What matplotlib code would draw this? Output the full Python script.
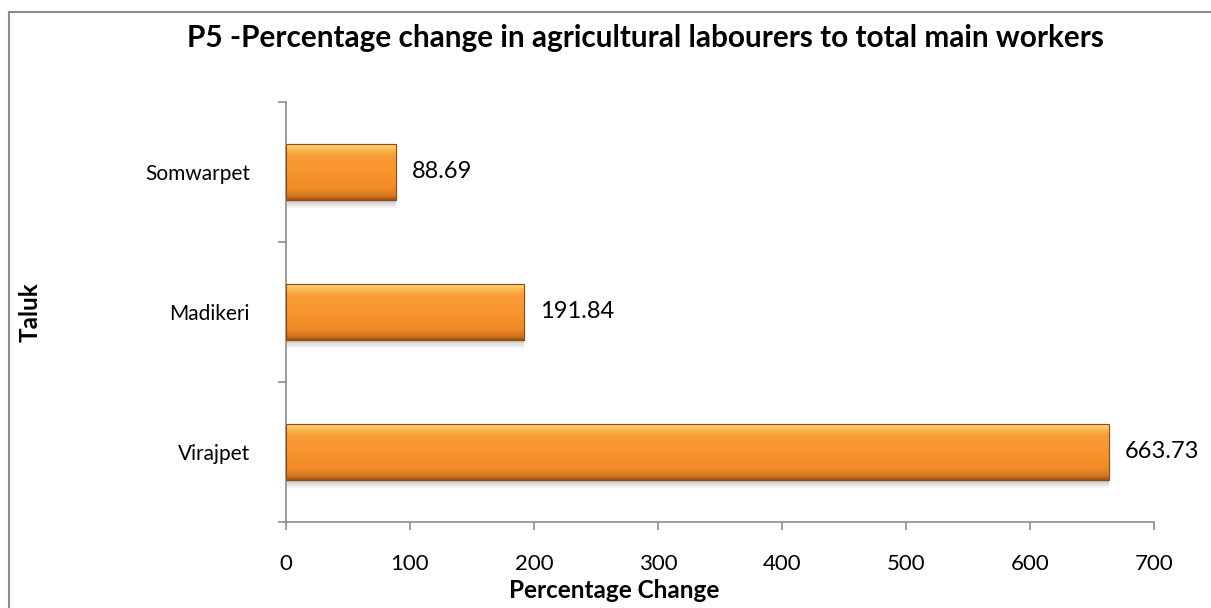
import numpy as np
import matplotlib.pyplot as plt
from matplotlib.colors import LinearSegmentedColormap
from matplotlib.lines import Line2D

taluks = ['Virajpet', 'Madikeri', 'Somwarpet']
pct_change = [663.73, 191.84, 88.69]
x_ticks = [0, 100, 200, 300, 400, 500, 600, 700]

plt.rcParams['font.family'] = ['Lato', 'DejaVu Sans']

fig = plt.figure(figsize=(12.11, 6.08), dpi=100)
ax = fig.add_axes([286 / 1211, 1 - 522 / 608, 868 / 1211, 420 / 608])

# outer chart frame (only left and top edges are visible in the picture)
fig.add_artist(Line2D([9 / 1211, 9 / 1211], [0, 1 - 12 / 608], transform=fig.transFigure,
                      color='#8c8c8c', lw=1.5))
fig.add_artist(Line2D([9 / 1211, 1], [1 - 12 / 608, 1 - 12 / 608], transform=fig.transFigure,
                      color='#8c8c8c', lw=1.5))

ypos = np.arange(len(taluks))
bar_h = 0.4
grad = LinearSegmentedColormap.from_list(
    'bev', [(0.0, '#a35614'), (0.07, '#d4771f'), (0.2, '#f08a26'), (0.5, '#f7962e'),
            (0.8, '#f99c35'), (0.92, '#fcbd58'), (1.0, '#fed47a')])
g = np.linspace(0, 1, 64).reshape(-1, 1)

for y, v in zip(ypos, pct_change):
    # soft shadow under the bar
    for k, a in enumerate([0.10, 0.07, 0.04]):
        ax.barh(y - 0.02 * (k + 1), v, height=bar_h, color='black', alpha=a, lw=0, zorder=1)
    bar = ax.barh(y, v, height=bar_h, color='#f7962e', edgecolor='#9c5412', lw=0.8, zorder=2)[0]
    im = ax.imshow(g, cmap=grad, aspect='auto', origin='lower',
                   extent=[0, v, y - bar_h / 2, y + bar_h / 2], zorder=3)
    im.set_clip_path(bar)
    ax.barh(y, v, height=bar_h, fill=False, edgecolor='#8f4c10', lw=0.8, zorder=4)
    ax.text(v + 13, y, f'{v:.2f}', va='center', ha='left', fontsize=17, color='black')

ax.set_xlim(0, 700)
ax.set_ylim(-0.5, len(taluks) - 0.5)
ax.set_xticks(x_ticks)
ax.set_xticklabels([str(t) for t in x_ticks], fontsize=16)
ax.set_yticks(ypos)
ax.set_yticklabels(taluks, fontsize=15)
ax.set_yticks(np.arange(-0.5, len(taluks), 1), minor=True)
ax.tick_params(axis='y', which='major', length=0, pad=26)
ax.tick_params(axis='y', which='minor', length=6, color='#8c8c8c', width=1.2)
ax.tick_params(axis='x', length=6, color='#8c8c8c', width=1.2, pad=17)

for s in ['top', 'right']:
    ax.spines[s].set_visible(False)
for s in ['left', 'bottom']:
    ax.spines[s].set_color('#8c8c8c')
    ax.spines[s].set_linewidth(1.2)

fig.text(614 / 1211, 1 - 590 / 608, 'Percentage Change', ha='center', va='center',
         fontsize=17.5, fontweight='bold')
fig.text(30 / 1211, 1 - 312 / 608, 'Taluk', rotation=90, ha='center', va='center',
         fontsize=17.5, fontweight='bold')
fig.text(645 / 1211, 1 - 38 / 608, 'P5 -Percentage change in agricultural labourers to total main workers',
         ha='center', va='center', fontsize=21.4, fontweight='bold')

fig.savefig('out.png', dpi=100, facecolor='white')
